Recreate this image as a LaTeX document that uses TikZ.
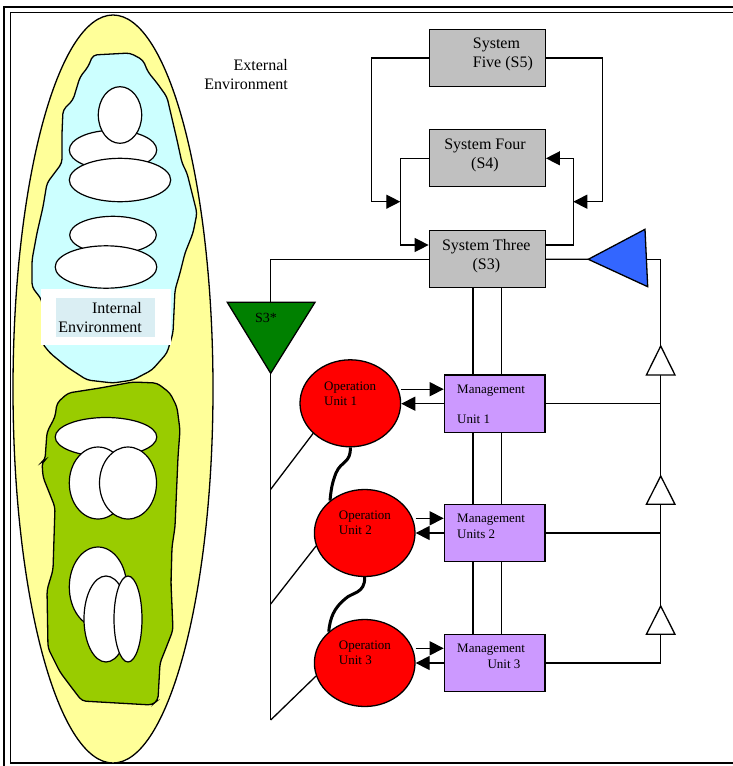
\documentclass[tikz,border=0pt]{standalone}
\usepackage{fontspec}
\setmainfont{Liberation Serif}
\usetikzlibrary{arrows.meta,shapes.geometric}
\definecolor{boxgray}{HTML}{C0C0C0}
\definecolor{mgmt}{HTML}{CC99FF}
\definecolor{opred}{HTML}{FF0000}
\definecolor{s3green}{HTML}{008000}
\definecolor{triblue}{HTML}{3366FF}
\definecolor{envyellow}{HTML}{FFFF99}
\definecolor{blobcyan}{HTML}{CCFFFF}
\definecolor{blobgreen}{HTML}{99CC00}
\definecolor{labelbg}{HTML}{DAEEF3}
\begin{document}
\begin{tikzpicture}[x=1pt,y=-1pt,
  conn/.style={line width=1.3pt},
  arr/.style={conn,-{Triangle[length=14pt,width=14pt]}},
  sysbox/.style={draw,line width=1.3pt,fill=boxgray,rectangle,minimum width=116pt,minimum height=57pt,inner sep=0pt},
  mgbox/.style={draw,line width=1.3pt,fill=mgmt,rectangle,minimum width=100.7pt,minimum height=57.3pt,inner sep=0pt},
  opell/.style={draw,line width=1.3pt,fill=opred,ellipse,minimum width=100.6pt,minimum height=87pt,inner sep=0pt},
  bigtxt/.style={font=\fontsize{16}{19}\selectfont,inner sep=0pt},
  smtxt/.style={font=\fontsize{13}{15.6}\selectfont,inner sep=0pt,align=left,anchor=west},
  blob/.style={draw,line width=1.3pt,rounded corners=4pt},
  cell/.style={draw,line width=1.2pt,fill=white},
  wtri/.style={draw,line width=1.3pt,fill=white},
  curvy/.style={line width=3pt}
]
\useasboundingbox (0,0) rectangle (733,766);
\fill[white] (0,0) rectangle (733,766);

% frame
\draw[line width=2.2pt] (4,790) -- (4,7) -- (760,7);
\draw[line width=1.6pt] (760,12.5) -- (10.5,12.5) -- (10.5,763) -- (760,763);

% environment
\filldraw[fill=envyellow,line width=1.3pt] (113,389) ellipse [x radius=100pt, y radius=374pt];

% internal environment blob
\filldraw[blob,fill=blobcyan] (93,55) -- (130,53) -- (143,60) -- (148,72) -- (157,83) -- (167,97) -- (170,110) -- (177,140) -- (182,163) -- (187,173) -- (192,193) -- (197,213) -- (193,233) -- (185,253) -- (180,273) -- (175,290) -- (173,333) -- (167,353) -- (152,370) -- (133,380) -- (113,383) -- (87,380) -- (67,367) -- (50,353) -- (42,343) -- (42,300) -- (32,287) -- (32,260) -- (37,233) -- (43,207) -- (47,183) -- (62,163) -- (62,133) -- (63,110) -- (73,100) -- (80,77) -- (88,67) -- cycle;
\filldraw[cell] (113,150) ellipse [x radius=43.7pt, y radius=19.7pt];
\filldraw[cell] (120,115) ellipse [x radius=21.7pt, y radius=28.3pt];
\filldraw[cell] (120,180) ellipse [x radius=50.7pt, y radius=21.7pt];
\filldraw[cell] (113,235) ellipse [x radius=43.3pt, y radius=18.7pt];
\filldraw[cell] (106,267) ellipse [x radius=50.8pt, y radius=21.2pt];
\fill[white] (41,289) rectangle (171,345);
\fill[labelbg] (56,298) rectangle (155,337);
\node[bigtxt,align=right,anchor=east] (int) at (142,317.5) {Internal\\Environment};

% green blob
\filldraw[blob,fill=blobgreen] (68,393) -- (100,388) -- (133,382) -- (157,383) -- (170,393) -- (177,407) -- (180,430) -- (178,457) -- (176,503) -- (175,527) -- (172,547) -- (171,583) -- (173,630) -- (168,643) -- (160,663) -- (158,700) -- (152,705) -- (82,701) -- (75,692) -- (60,672) -- (48,648) -- (47,590) -- (53,570) -- (55,507) -- (43,477) -- (42,462) -- (45,460) -- (47,432) -- (55,417) -- (57,403) -- cycle;
\filldraw[cell] (106,437) ellipse [x radius=50.8pt, y radius=19.5pt];
\filldraw[cell] (98,483) ellipse [x radius=28.7pt, y radius=36pt];
\filldraw[cell] (128,483) ellipse [x radius=28.5pt, y radius=36pt];
\filldraw[cell] (98,587) ellipse [x radius=28.7pt, y radius=40pt];
\filldraw[cell] (106,619) ellipse [x radius=22pt, y radius=43pt];
\filldraw[cell] (128,619) ellipse [x radius=14pt, y radius=43pt];

\node[bigtxt,align=right,anchor=east] (ext) at (288,74.5) {External\\Environment};

% system boxes
\node[sysbox] (s5) at (487.3,57.9) {};
\node[sysbox] (s4) at (487.3,158.3) {};
\node[sysbox] (s3) at (487.3,259.2) {};
\node[bigtxt,align=left,anchor=west] (s5t) at (472.7,54.5) {System\\Five (S5)};
\node[bigtxt,align=center] (s4t) at (485,155.5) {System Four\\(S4)};
\node[bigtxt,align=center] (s3t) at (486.3,256.3) {System Three\\(S3)};

% management and operations
\node[mgbox] (mu1) at (494.7,403.7) {};
\node[mgbox] (mu2) at (494.7,533) {};
\node[mgbox] (mu3) at (494.7,663) {};
\node[opell] (op1) at (350.3,403.3) {};
\node[opell] (op2) at (364.7,533) {};
\node[opell] (op3) at (364.7,663) {};
\node[smtxt] (op1t) at (324,393.9) {Operation\\Unit 1};
\node[smtxt] (op2t) at (338.7,522.9) {Operation\\Unit 2};
\node[smtxt] (op3t) at (338.7,652.9) {Operation\\Unit 3};
\node[smtxt] (mu1t) at (457,404.2) {Management\\[14.4pt]Unit 1};
\node[smtxt] (mu2t) at (457,526.3) {Management\\Units 2};
\node[smtxt] (mu3t) at (457,656.5) {Management\\\hspace*{30.3pt}Unit 3};

% coordinates
\coordinate (cl5) at (371.7,201.7);
\coordinate (cl) at (400.3,245);
\coordinate (cr) at (573.3,245);
\coordinate (cr5) at (602.7,201.7);
\coordinate (s3sT) at (270.7,302.3);
\coordinate (s3sL) at (227.3,302.3);
\coordinate (s3sR) at (315,302.3);
\coordinate (s3sB) at (270.7,373.3);
\coordinate (d1) at (270.7,489.3);
\coordinate (d2) at (270.7,604);
\coordinate (d3) at (270.7,720);
\coordinate (bt1) at (588.3,259.3);
\coordinate (bt2) at (645,229.3);
\coordinate (bt3) at (647.7,286.7);
\coordinate (btR) at (646.4,259.3);
\coordinate (rtop) at (660.7,259.3);
\coordinate (rbot) at (660.7,663);
\coordinate (vA) at (473,0);
\coordinate (vB) at (501.7,0);

% S5/S4/S3 loops
\draw[arr] (s5.west) -| (cl5) -- (cl |- cl5);
\draw[arr] (s4.west) -| (cl) -- ([yshift=14.2pt]s3.west);
\draw[arr] ([yshift=14.2pt]s3.east) -- (cr) |- (s4.east);
\draw[arr] (s5.east) -| (cr5) -- (cr |- cr5);

% S3* audit channel
\draw[conn] (s3.west) -| (s3sT);
\filldraw[fill=s3green,line width=1.3pt] (s3sL) -- (s3sR) -- (s3sB) -- cycle;
\node[font=\fontsize{14}{16}\selectfont,inner sep=0pt] (s3st) at (266,318.3) {S3*};
\draw[conn] (s3sB) -- (d3);
\draw[conn] (d1) -- (op1.219.7);
\draw[conn] (d2) -- (op2.195.4);
\draw[conn] (d3) -- (op3.195.4);

% blue triangle and right channel
\draw[conn] (s3.east) -- (bt1);
\filldraw[fill=triblue,line width=1.3pt] (bt1) -- (bt2) -- (bt3) -- cycle;
\draw[conn] (btR) -- (rtop) -- (rbot);
\draw[conn] (mu1.east) -- (rtop |- mu1.east);
\draw[conn] (mu2.east) -- (rtop |- mu2.east);
\draw[conn] (mu3.east) -- (rbot);
\filldraw[wtri] (646.4,375) -- (660.7,346) -- (675,375) -- cycle;
\filldraw[wtri] (646.4,504.3) -- (660.7,476) -- (675,504.3) -- cycle;
\filldraw[wtri] (646.4,634.3) -- (660.7,606) -- (675,634.3) -- cycle;

% vertical double lines
\draw[conn] (s3.south -| vA) -- (mu1.north -| vA);
\draw[conn] (s3.south -| vB) -- (mu1.north -| vB);
\draw[conn] (mu1.south -| vA) -- (mu2.north -| vA);
\draw[conn] (mu1.south -| vB) -- (mu2.north -| vB);
\draw[conn] (mu2.south -| vA) -- (mu3.north -| vA);
\draw[conn] (mu2.south -| vB) -- (mu3.north -| vB);

% op <-> management arrows
\draw[arr] ([yshift=14.5pt]mu1.west -| op1.east) -- ([yshift=14.5pt]mu1.west);
\draw[arr] (mu1.west) -- (mu1.west -| op1.east);
\draw[arr] ([yshift=14.7pt]mu2.west -| op2.east) -- ([yshift=14.7pt]mu2.west);
\draw[arr] (mu2.west) -- (mu2.west -| op2.east);
\draw[arr] ([yshift=14.7pt]mu3.west -| op3.east) -- ([yshift=14.7pt]mu3.west);
\draw[arr] (mu3.west) -- (mu3.west -| op3.east);

% curvy links between operation units
\draw[curvy] (op1.south) .. controls (351,463) and (341,461) .. (336,473) .. controls (332,483) and (331,490) .. (op2.137);
\draw[curvy] (op2.south) .. controls (365,594) and (352,592) .. (345,599) .. controls (334,608) and (330,618) .. (op3.139);
\end{tikzpicture}
\end{document}
